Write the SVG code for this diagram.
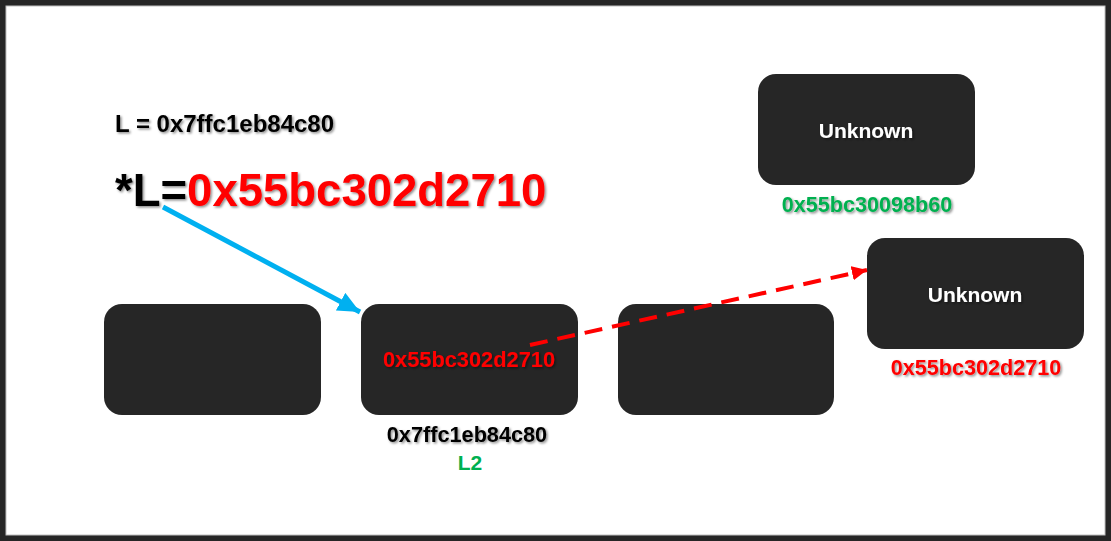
<svg xmlns="http://www.w3.org/2000/svg" width="1111" height="541" viewBox="0 0 1111 541">
<defs>
<style>
.box{fill:#262626;}
.t{font-family:"Liberation Sans",Arial,sans-serif;font-weight:bold;}
.sh{filter:url(#shadow);}
.red{fill:#FF0000;}
.green{fill:#00B050;}
.blk{fill:#000000;}
.wht{fill:#FFFFFF;}
</style>
<filter id="shadow" x="-10%" y="-30%" width="120%" height="160%">
<feDropShadow dx="1.5" dy="1.5" stdDeviation="0.8" flood-color="#000000" flood-opacity="0.45"/>
</filter>
<marker id="blueHead" markerWidth="4.6" markerHeight="4.2" refX="4.4" refY="2" orient="auto" markerUnits="strokeWidth">
<path d="M0,0 L4.4,2 L0,4 z" fill="#00B0F0"/>
</marker>
<marker id="redHead" markerWidth="4" markerHeight="3.8" refX="3.8" refY="1.8" orient="auto" markerUnits="strokeWidth">
<path d="M0,0 L3.8,1.8 L0,3.6 z" fill="#FF0000"/>
</marker>
</defs>
<rect x="0" y="0" width="1111" height="541" fill="#262626"/>
<rect x="6" y="6" width="1099" height="529" fill="#FFFFFF" stroke="#BFBFBF" stroke-width="1"/>

<g id="labels">
<text class="t blk sh" x="115" y="132" font-size="24">L = 0x7ffc1eb84c80</text>
<text class="t sh" x="115" y="206" font-size="45.5"><tspan class="blk">*L=</tspan><tspan class="red">0x55bc302d2710</tspan></text>
</g>

<g id="node-a">
<rect class="box" x="104" y="304" width="217" height="111" rx="18"/>
</g>
<g id="node-b">
<rect class="box" x="361" y="304" width="217" height="111" rx="18"/>
<text class="t red sh" x="469" y="367" font-size="21.8" text-anchor="middle">0x55bc302d2710</text>
<text class="t blk sh" x="467" y="442" font-size="21.7" text-anchor="middle">0x7ffc1eb84c80</text>
<text class="t green" x="470" y="470" font-size="21" text-anchor="middle">L2</text>
</g>
<g id="node-c">
<rect class="box" x="618" y="304" width="216" height="111" rx="18"/>
</g>
<g id="node-d">
<rect class="box" x="758" y="74" width="217" height="111" rx="18"/>
<text class="t wht sh" x="866" y="138" font-size="21" text-anchor="middle">Unknown</text>
<text class="t green sh" x="867" y="212" font-size="21.6" text-anchor="middle">0x55bc30098b60</text>
</g>
<g id="node-e">
<rect class="box" x="867" y="238" width="217" height="111" rx="18"/>
<text class="t wht sh" x="975" y="302" font-size="21" text-anchor="middle">Unknown</text>
<text class="t red sh" x="976" y="375" font-size="21.6" text-anchor="middle">0x55bc302d2710</text>
</g>

<g id="connectors">
<line x1="163" y1="207" x2="360" y2="312" stroke="#00B0F0" stroke-width="5" marker-end="url(#blueHead)"/>
<line x1="530" y1="345" x2="867" y2="270" stroke="#FF0000" stroke-width="4" stroke-dasharray="18,10" marker-end="url(#redHead)"/>
</g>
</svg>
